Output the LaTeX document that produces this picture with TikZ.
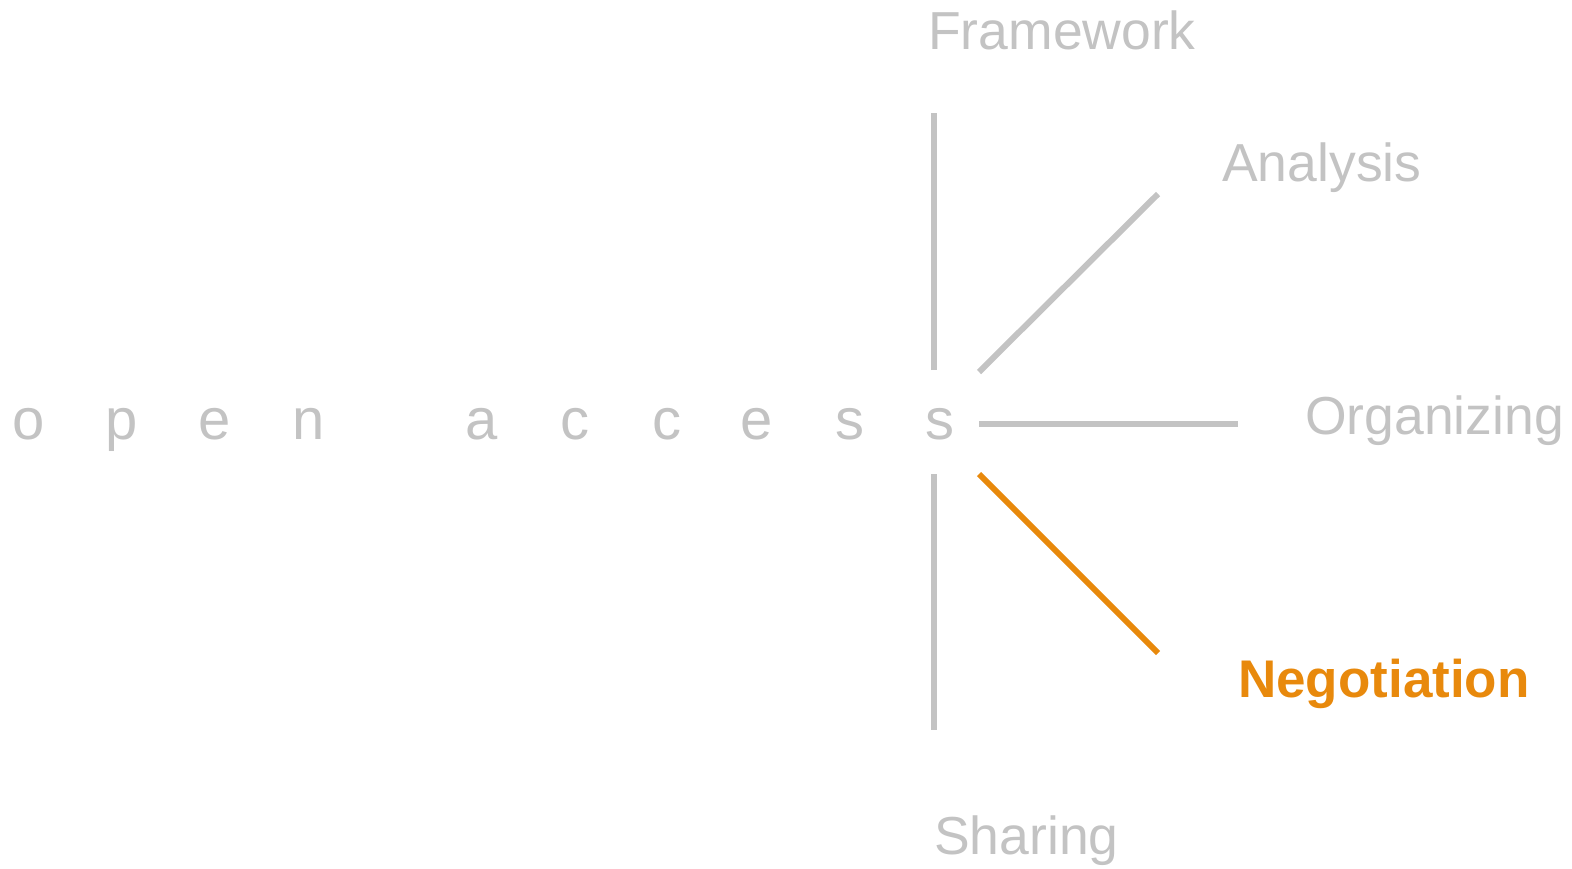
\documentclass[tikz,border=0pt]{standalone}
\usepackage{fontspec}
\setmainfont{Liberation Sans}
\usetikzlibrary{calc}
\definecolor{spokegray}{RGB}{195,195,195}
\definecolor{spokeorange}{RGB}{232,137,12}
\tikzset{
  letter/.style={anchor=base, inner sep=0pt, text=spokegray, font=\fontsize{58}{60}\selectfont},
  branch/.style={anchor=base west, inner sep=0pt, text=spokegray, font=\fontsize{53.5}{56}\selectfont},
  spoke/.style={draw=spokegray, line width=6pt},
}
\begin{document}
\begin{tikzpicture}[x=1pt, y=-1pt]
   \useasboundingbox (0,0) rectangle (1572,868);
   \foreach \ch/\px [count=\i] in {o/29, p/122, e/215, n/309, a/482, c/575, c/667, e/757, s/850, s/940}
      \node (l\i) [letter] at (\px,439) {\ch};
   \coordinate (hub) at (934,424);
   \node (frame) [branch] at (928,49) {Framework};
   \node (anal) [branch] at (1222,181) {Analysis};
   \node (org) [branch] at (1305,434) {Organizing};
   \node (nego) [branch, text=spokeorange, font=\fontsize{53}{56}\selectfont\bfseries] at (1238,697) {Negotiation};
   \node (share) [branch] at (934,854) {Sharing};
   \draw [spoke] ($(hub)+(0,-54)$) -- ($(hub)+(0,-311)$);
   \draw [spoke] ($(hub)+(45,-52)$) -- ($(hub)+(224,-230)$);
   \draw [spoke] ($(hub)+(45,0)$) -- ($(hub)+(304,0)$);
   \draw [spoke, draw=spokeorange] ($(hub)+(45,50)$) -- ($(hub)+(224,229)$);
   \draw [spoke] ($(hub)+(0,50)$) -- ($(hub)+(0,306)$);
\end{tikzpicture}
\end{document}
